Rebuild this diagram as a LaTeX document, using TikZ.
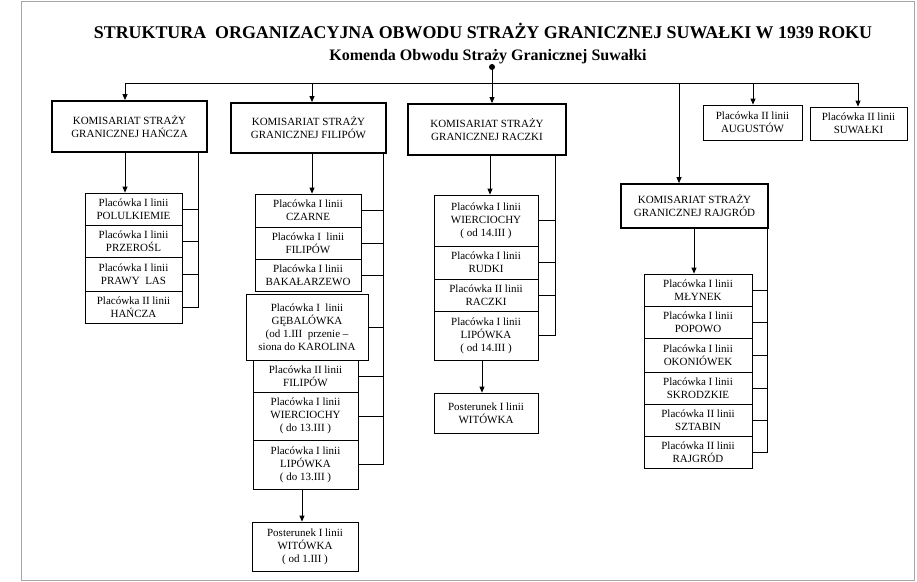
\documentclass[tikz,border=0pt]{standalone}
\usepackage{fontspec}
\setmainfont{Liberation Serif}
\usetikzlibrary{arrows.meta}
\begin{document}
\begin{tikzpicture}[x=1pt,y=-1pt,
  kom/.style={draw, line width=1.8pt, align=center, inner sep=0pt, font=\fontsize{11}{13}\selectfont},
  pl/.style={draw, line width=0.8pt, align=center, inner sep=0pt, font=\fontsize{11}{13}\selectfont},
  sz/.style 2 args={minimum width=#1pt, minimum height=#2pt},
  arr/.style={line width=0.8pt, -{Triangle[length=6pt,width=5pt]}},
  ln/.style={line width=0.8pt}]
\useasboundingbox (0,0) rectangle (917,581);
\draw[gray!70, line width=1pt] (21,1) rectangle (914,580);

% titles
\node[anchor=base, font=\bfseries\fontsize{17.9}{20}\selectfont] (title) at (483,38)
  {STRUKTURA\ \ ORGANIZACYJNA OBWODU STRAŻY GRANICZNEJ SUWAŁKI W 1939 ROKU};
\node[anchor=base, font=\bfseries\fontsize{16}{18}\selectfont] (sub) at (488,60)
  {Komenda Obwodu Straży Granicznej Suwałki};

% komisariaty
\node[kom, sz={155}{51}] (kH) at (129.5,126.5) {KOMISARIAT STRAŻY\\GRANICZNEJ HAŃCZA};
\node[kom, sz={155}{50}] (kF) at (308.5,128) {KOMISARIAT STRAŻY\\GRANICZNEJ FILIPÓW};
\node[kom, sz={158}{51}] (kR) at (487,129.5) {KOMISARIAT STRAŻY\\GRANICZNEJ RACZKI};
\node[kom, sz={147}{44}] (kJ) at (694.5,206) {KOMISARIAT STRAŻY\\GRANICZNEJ RAJGRÓD};
\node[pl, sz={99}{35}] (aug) at (752.5,122.5) {Placówka II linii\\AUGUSTÓW};
\node[pl, sz={97}{33}] (suw) at (858.5,123.5) {Placówka II linii\\SUWAŁKI};

% top bus
\coordinate (dot) at (492,67);
\coordinate (busL) at (125,83);
\coordinate (busR) at (858,83);
\coordinate (bF) at (312,83);
\coordinate (bJ) at (679,83);
\coordinate (bA) at (753,83);
\fill (dot) circle (3pt);
\draw[ln] (busL) -- (busR);
\draw[arr] (busL) -- (busL |- kH.north);
\draw[arr] (bF) -- (bF |- kF.north);
\draw[arr] (dot) -- (dot |- kR.north);
\draw[arr] (bJ) -- (bJ |- kJ.north);
\draw[arr] (bA) -- (bA |- aug.north);
\draw[arr] (busR) -- (busR |- suw.north);

% Hancza
\node[pl, sz={97}{32}] (h1) at (133.5,209) {Placówka I linii\\POLULKIEMIE};
\node[pl, sz={97}{32}] (h2) at (133.5,241) {Placówka I linii\\PRZEROŚL};
\node[pl, sz={97}{34}] (h3) at (133.5,274) {Placówka I linii\\PRAWY\ \ LAS};
\node[pl, sz={97}{32}] (h4) at (133.5,307) {Placówka II linii\\HAŃCZA};
\coordinate (aH) at (125,0);
\coordinate (sH) at (198,0);
\draw[arr] (aH |- kH.south) -- (aH |- h1.north);
\draw[ln] (sH |- kH.south) -- (sH |- h4.east) -- (h4.east);
\foreach \n in {h1,h2,h3} \draw[ln] (\n.east) -- (\n.east -| sH);

% Filipow
\node[pl, sz={106}{33}] (f1) at (308,210.5) {Placówka I linii\\CZARNE};
\node[pl, sz={106}{32}] (f2) at (308,243) {Placówka I\ \ linii\\FILIPÓW};
\node[pl, sz={106}{32}] (f3) at (308,275) {Placówka I linii\\BAKAŁARZEWO};
\node[pl, sz={122}{66}] (f4) at (307,327) {Placówka I\ \ linii\\GĘBALÓWKA\\(od 1.III\ \ przenie –\\siona do KAROLINA};
\node[pl, sz={105}{32}] (f5) at (305.5,376) {Placówka II linii\\FILIPÓW};
\node[pl, sz={105}{48}] (f6) at (305.5,416) {Placówka I linii\\WIERCIOCHY\\( do 13.III )};
\node[pl, sz={105}{49}] (f7) at (305.5,464.5) {Placówka I linii\\LIPÓWKA\\( do 13.III )};
\node[pl, sz={106}{49}] (fp) at (305,546.5) {Posterunek I linii\\WITÓWKA\\( od 1.III )};
\coordinate (aF) at (312,0);
\coordinate (aF2) at (302,0);
\coordinate (sF) at (383,0);
\draw[arr] (aF |- kF.south) -- (aF |- f1.north);
\draw[arr] (aF2 |- f7.south) -- (aF2 |- fp.north);
\draw[ln] (sF |- kF.south) -- (sF |- f7.east) -- (f7.east);
\foreach \n in {f1,f2,f3,f4,f5,f6} \draw[ln] (\n.east) -- (\n.east -| sF);

% Raczki
\node[pl, sz={104}{51}] (r1) at (486,220.5) {Placówka I linii\\WIERCIOCHY\\( od 14.III )};
\node[pl, sz={104}{33}] (r2) at (486,262.5) {Placówka I linii\\RUDKI};
\node[pl, sz={104}{32}] (r3) at (486,295) {Placówka II linii\\RACZKI};
\node[pl, sz={104}{49}] (r4) at (486,335.5) {Placówka I linii\\LIPÓWKA\\( od 14.III )};
\node[pl, sz={104}{40}] (rp) at (486,413) {Posterunek I linii\\WITÓWKA};
\coordinate (aR) at (490,0);
\coordinate (aR2) at (482,0);
\coordinate (sR) at (555,0);
\draw[arr] (aR |- kR.south) -- (aR |- r1.north);
\draw[arr] (aR2 |- r4.south) -- (aR2 |- rp.north);
\draw[ln] (sR |- kR.south) -- (sR |- r4.east) -- (r4.east);
\foreach \n in {r1,r2,r3} \draw[ln] (\n.east) -- (\n.east -| sR);

% Rajgrod
\node[pl, sz={108}{32}] (j1) at (698,290) {Placówka I linii\\MŁYNEK};
\node[pl, sz={108}{32}] (j2) at (698,322) {Placówka I linii\\POPOWO};
\node[pl, sz={108}{34}] (j3) at (698,355) {Placówka I linii\\OKONIÓWEK};
\node[pl, sz={108}{32}] (j4) at (698,388) {Placówka I linii\\SKRODZKIE};
\node[pl, sz={108}{32}] (j5) at (698,420) {Placówka II linii\\SZTABIN};
\node[pl, sz={108}{32}] (j6) at (698,452) {Placówka II linii\\RAJGRÓD};
\coordinate (aJ) at (694,0);
\coordinate (sJ) at (767,0);
\draw[arr] (aJ |- kJ.south) -- (aJ |- j1.north);
\draw[ln] (sJ |- kJ.south) -- (sJ |- j6.east) -- (j6.east);
\foreach \n in {j1,j2,j3,j4,j5} \draw[ln] (\n.east) -- (\n.east -| sJ);
\end{tikzpicture}
\end{document}
